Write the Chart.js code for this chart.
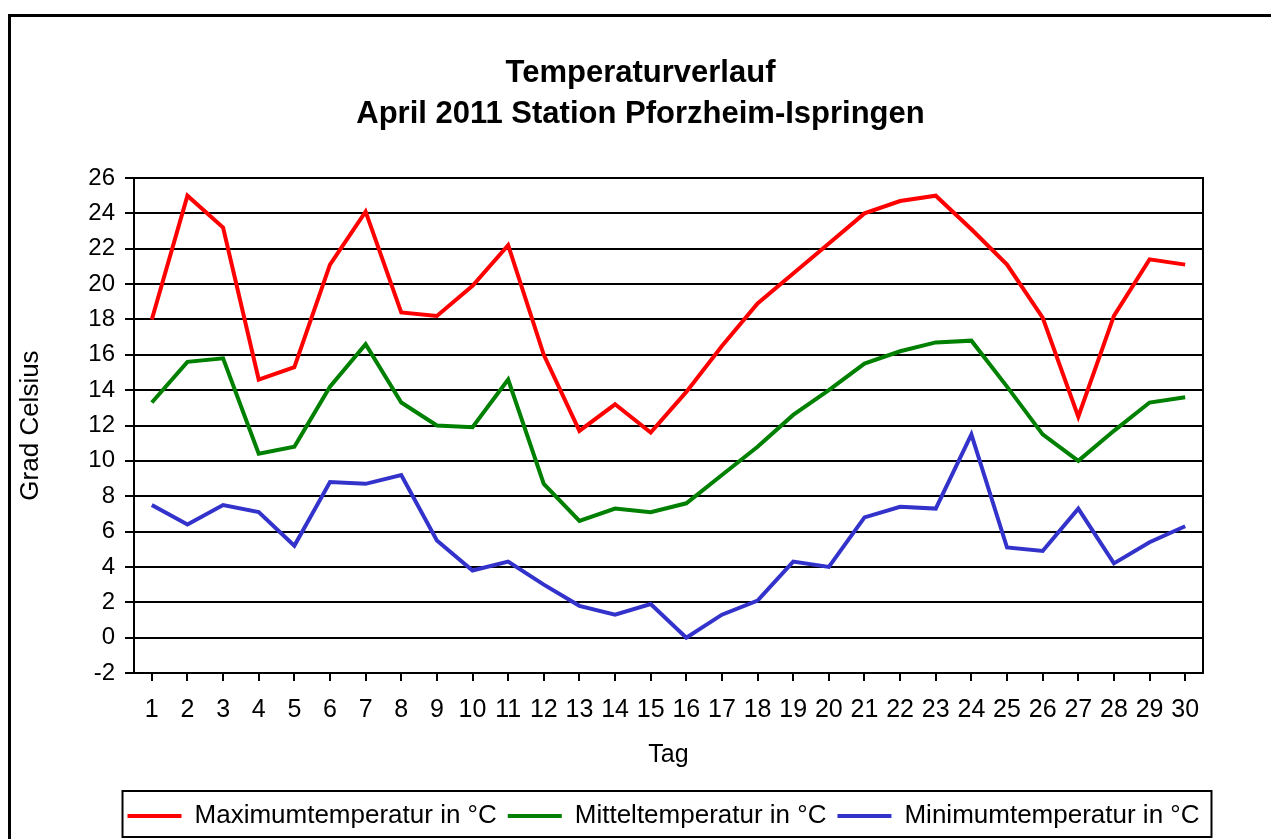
<!DOCTYPE html>
<html>
<head>
<meta charset="utf-8">
<script src="https://cdn.jsdelivr.net/npm/chart.js@4.4.1/dist/chart.umd.min.js"></script>
<style>
  html, body { margin: 0; padding: 0; background: #fff; }
  #wrap { position: relative; width: 1271px; height: 839px; }
</style>
</head>
<body>
<div id="wrap"><canvas id="tempChart"></canvas></div>
<script>
// Tage im April 2011
const days = ['1','2','3','4','5','6','7','8','9','10','11','12','13','14','15',
              '16','17','18','19','20','21','22','23','24','25','26','27','28','29','30'];

const maxTemp  = [18.0, 25.0, 23.2, 14.6, 15.3, 21.1, 24.1, 18.4, 18.2, 19.9,
                  22.2, 16.0, 11.7, 13.2, 11.6, 13.9, 16.5, 18.9, 20.6, 22.3,
                  24.0, 24.7, 25.0, 23.1, 21.1, 18.1, 12.5, 18.2, 21.4, 21.1];
const meanTemp = [13.3, 15.6, 15.8, 10.4, 10.8, 14.2, 16.6, 13.3, 12.0, 11.9,
                  14.6,  8.7,  6.6,  7.3,  7.1,  7.6,  9.2, 10.8, 12.6, 14.0,
                  15.5, 16.2, 16.7, 16.8, 14.2, 11.5, 10.0, 11.7, 13.3, 13.6];
const minTemp  = [ 7.5,  6.4,  7.5,  7.1,  5.2,  8.8,  8.7,  9.2,  5.5,  3.8,
                   4.3,  3.0,  1.8,  1.3,  1.9,  0.0,  1.3,  2.1,  4.3,  4.0,
                   6.8,  7.4,  7.3, 11.5,  5.1,  4.9,  7.3,  4.2,  5.4,  6.3];

const yMin = -2;
const yMax = 26;
const yStep = 2;

const FONT = 'Liberation Sans, Arial, sans-serif';

// Rahmen um das Diagramm und Kasten um die Legende
const framePlugin = {
    id: 'frame',
    afterLayout(chart) {
        const lg = chart.legend;
        if (lg) {
            lg.left += 28; lg.right += 28;
            lg.top += 19; lg.bottom += 19;
        }
        if (chart.titleBlock) { chart.titleBlock.left += 5; chart.titleBlock.right += 5; }
    },
    beforeDraw(chart) {
        const ctx = chart.ctx;
        ctx.save();
        ctx.strokeStyle = '#000';
        ctx.lineWidth = 3;
        ctx.beginPath();
        ctx.moveTo(9.5, chart.height);
        ctx.lineTo(9.5, 15.5);
        ctx.lineTo(chart.width, 15.5);
        ctx.stroke();
        ctx.restore();
    },
    afterDraw(chart) {
        const boxes = chart.legend && chart.legend.legendHitBoxes;
        if (!boxes || !boxes.length) return;
        const left = Math.min(...boxes.map(b => b.left)) - 5;
        const right = Math.max(...boxes.map(b => b.left + b.width)) + 12;
        const top = Math.min(...boxes.map(b => b.top)) - 12;
        const bottom = Math.max(...boxes.map(b => b.top + b.height)) + 8;
        const ctx = chart.ctx;
        ctx.save();
        ctx.strokeStyle = '#000';
        ctx.lineWidth = 2;
        ctx.strokeRect(left, top, right - left, bottom - top);
        ctx.restore();
    }
};

new Chart(document.getElementById('tempChart'), {
    type: 'line',
    data: {
        labels: days,
        datasets: [
            {
                label: 'Maximumtemperatur in °C',
                data: maxTemp,
                borderColor: '#ff0000',
                backgroundColor: '#ff0000',
                borderWidth: 4,
                pointRadius: 0,
                tension: 0,
            },
            {
                label: 'Mitteltemperatur in °C',
                data: meanTemp,
                borderColor: '#008000',
                backgroundColor: '#008000',
                borderWidth: 4,
                pointRadius: 0,
                tension: 0,
            },
            {
                label: 'Minimumtemperatur in °C',
                data: minTemp,
                borderColor: '#3333cc',
                backgroundColor: '#3333cc',
                borderWidth: 4,
                pointRadius: 0,
                tension: 0,
            }
        ]
    },
    options: {
        responsive: true,
        maintainAspectRatio: false,
        animation: false,
        layout: { padding: { bottom: 19 } },
        plugins: {
            tooltip: { enabled: false },
            title: {
                display: true,
                text: ['Temperaturverlauf', 'April 2011 Station Pforzheim-Ispringen'],
                color: '#000',
                font: { family: FONT, size: 31, weight: 'bold', lineHeight: 1.323 },
                padding: { top: 53, bottom: 43 }
            },
            legend: {
                position: 'bottom',
                labels: {
                    color: '#000',
                    font: { family: FONT, size: 26 },
                    boxWidth: 54,
                    boxHeight: 4,
                    padding: 11,
                    generateLabels: chart =>
                        Chart.defaults.plugins.legend.labels.generateLabels(chart)
                            .map(l => Object.assign(l, { lineWidth: 0 }))
                }
            }
        },
        scales: {
            x: {
                offset: true,
                afterFit: s => { s.height = 100; },
                ticks: {
                    autoSkip: false,
                    maxRotation: 0,
                    color: '#000',
                    padding: 14,
                    font: { family: FONT, size: 25 }
                },
                grid: {
                    display: true,
                    drawOnChartArea: false,
                    tickLength: 8,
                    color: '#000',
                    lineWidth: 2
                },
                border: { color: '#000', width: 2 },
                title: {
                    display: true,
                    text: 'Tag',
                    color: '#000',
                    font: { family: FONT, size: 25 },
                    padding: { top: 0, bottom: 3 }
                }
            },
            y: {
                min: yMin,
                max: yMax,
                afterFit: s => { s.width = 134; },
                ticks: {
                    stepSize: yStep,
                    color: '#000',
                    padding: 10,
                    font: { family: FONT, size: 24 }
                },
                grid: {
                    color: '#000',
                    lineWidth: 2,
                    tickLength: 9
                },
                border: { color: '#000', width: 2 },
                title: {
                    display: true,
                    text: 'Grad Celsius',
                    color: '#000',
                    font: { family: FONT, size: 26 },
                    padding: { top: 15, bottom: 0 }
                }
            },
            yRight: {
                position: 'right',
                min: yMin,
                max: yMax,
                afterFit: s => { s.width = 68; },
                ticks: { display: false },
                grid: { display: false },
                border: { color: '#000', width: 2 }
            }
        }
    },
    plugins: [framePlugin]
});
</script>
</body>
</html>
